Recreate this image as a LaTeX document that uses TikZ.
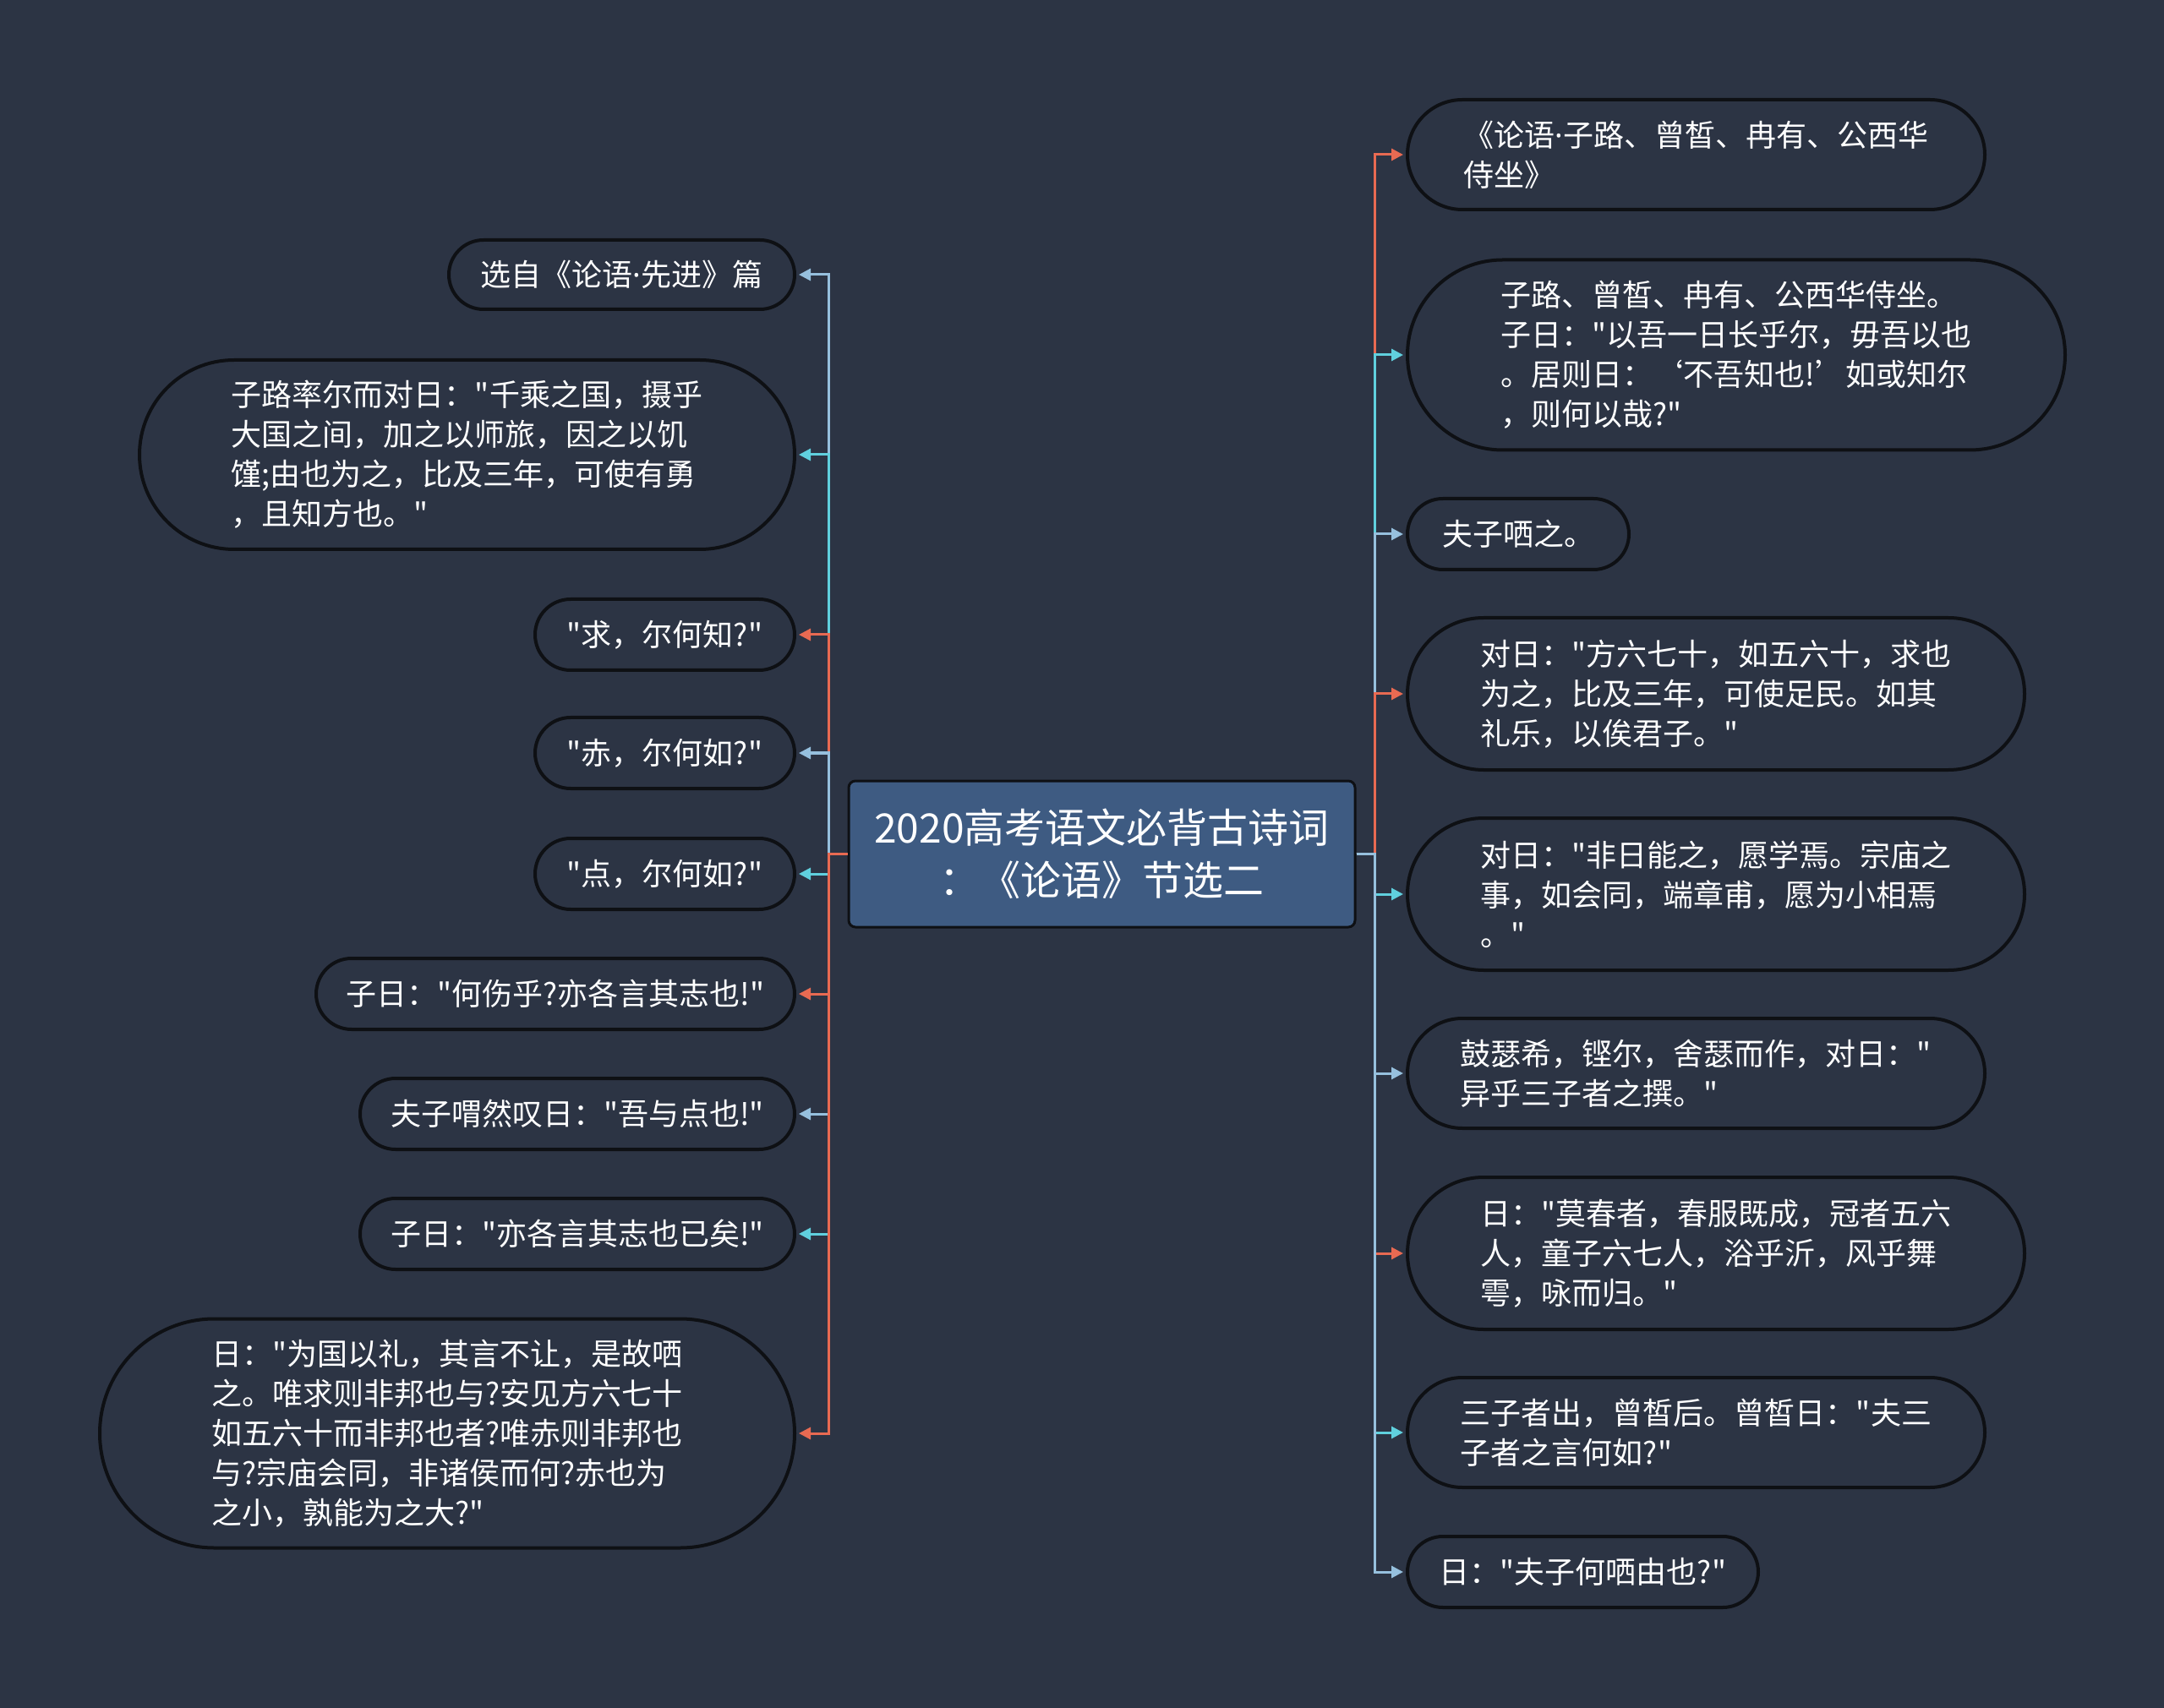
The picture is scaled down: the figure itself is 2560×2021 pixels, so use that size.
\documentclass[tikz,border=0pt]{standalone}
\usepackage{fontspec}
\usepackage{xcolor}
\newfontfamily\cjk{Noto Sans CJK SC}
\newfontfamily\latin{Noto Sans}
\newcommand{\mdot}{{\latin ·}}
\definecolor{mmbg}{RGB}{44,52,68}
\definecolor{mmroot}{RGB}{62,91,130}
\definecolor{mmred}{RGB}{232,106,82}
\definecolor{mmcyan}{RGB}{96,208,222}
\definecolor{mmblue}{RGB}{150,192,222}
\definecolor{mmedge}{RGB}{14,16,20}
\usetikzlibrary{arrows.meta}

\begin{document}
\begin{tikzpicture}[x=0.5pt, y=-0.5pt,
  leaf/.style 2 args={draw=mmedge, line width=2pt, fill=mmbg, text=white, align=left, inner sep=0pt,
    font=\cjk\fontsize{18}{23.5}\selectfont, minimum width=#1, minimum height=#2, rounded corners=#2/2},
  link/.style={draw=#1, line width=1.5pt, -{Triangle[length=7pt,width=7pt]}, shorten >=1.5pt}]
  \useasboundingbox (0,0) rectangle (2560,2021);
  \fill[mmbg] (0,0) rectangle (2560,2021);

  % centre
  \node[draw=mmedge, line width=1.5pt, fill=mmroot, rounded corners=4pt, text=white, align=center, inner sep=0pt,
    font=\cjk\fontsize{24}{31}\selectfont, minimum width=299.5pt, minimum height=86.5pt] (root) at (1303.5,1010.5)
    {2020高考语文必背古诗词\\：《论语》节选二};
  \coordinate (lt) at (980,1010.5);
  \coordinate (rt) at (1626,1010.5);

  % left side
  \node[leaf={204.5pt}{41pt}] (sel) at (735.5,325) {选自《论语\mdot 先进》篇};
  \node[leaf={387.5pt}{112pt}] (zl) at (552.5,538) {子路率尔而对日："千乘之国，摄乎\\大国之间，加之以师旅，因之以饥\\馑;由也为之，比及三年，可使有勇\\，且知方也。"};
  \node[leaf={153.5pt}{42pt}] (qiu) at (786.5,751) {"求，尔何知?"};
  \node[leaf={153.5pt}{42pt}] (chi) at (786.5,891) {"赤，尔何如?"};
  \node[leaf={153.5pt}{42pt}] (dian) at (786.5,1034) {"点，尔何如?"};
  \node[leaf={283pt}{42pt}] (hs) at (657,1176) {子日："何伤乎?亦各言其志也!"};
  \node[leaf={257pt}{42pt}] (kw) at (683,1318) {夫子喟然叹日："吾与点也!"};
  \node[leaf={257pt}{42pt}] (yy) at (683,1460) {子日："亦各言其志也已矣!"};
  \node[leaf={411pt}{135.5pt}] (wg) at (529,1696) {日："为国以礼，其言不让，是故哂\\之。唯求则非邦也与?安见方六七十\\如五六十而非邦也者?唯赤则非邦也\\与?宗庙会同，非诸侯而何?赤也为\\之小，孰能为之大?"};

  % right side
  \node[leaf={341.5pt}{65pt}] (ly) at (2006.5,183) {《论语\mdot 子路、曾皙、冉有、公西华\\侍坐》};
  \node[leaf={389pt}{112.5pt}] (zz) at (2054,420) {子路、曾皙、冉有、公西华侍坐。\\子日："以吾一日长乎尔，毋吾以也\\。居则日：‘不吾知也!’如或知尔\\，则何以哉?"};
  \node[leaf={131pt}{42pt}] (fz) at (1796,632) {夫子哂之。};
  \node[leaf={365pt}{90pt}] (df) at (2030,821) {对日："方六七十，如五六十，求也\\为之，比及三年，可使足民。如其\\礼乐，以俟君子。"};
  \node[leaf={365pt}{90pt}] (dn) at (2030,1058) {对日："非日能之，愿学焉。宗庙之\\事，如会同，端章甫，愿为小相焉\\。"};
  \node[leaf={341.5pt}{65pt}] (gs) at (2006.5,1270) {鼓瑟希，铿尔，舍瑟而作，对日："\\异乎三子者之撰。"};
  \node[leaf={365pt}{90pt}] (ym) at (2030,1483) {日："莫春者，春服既成，冠者五六\\人，童子六七人，浴乎沂，风乎舞\\雩，咏而归。"};
  \node[leaf={341.5pt}{65pt}] (sz) at (2006.5,1695) {三子者出，曾皙后。曾皙日："夫三\\子者之言何如?"};
  \node[leaf={207.5pt}{42pt}] (yf) at (1872.5,1860) {日："夫子何哂由也?"};

  % branches, top to bottom
  \draw[link=mmblue] (root.west) -- (lt) |- (sel.east);
  \draw[link=mmcyan] (root.west) -- (lt) |- (zl.east);
  \draw[link=mmred] (root.west) -- (lt) |- (qiu.east);
  \draw[link=mmblue] (root.west) -- (lt) |- (chi.east);
  \draw[link=mmcyan] (root.west) -- (lt) |- (dian.east);
  \draw[link=mmred] (root.west) -- (lt) |- (hs.east);
  \draw[link=mmblue] (root.west) -- (lt) |- (kw.east);
  \draw[link=mmcyan] (root.west) -- (lt) |- (yy.east);
  \draw[link=mmred] (root.west) -- (lt) |- (wg.east);

  \draw[link=mmred] (root.east) -- (rt) |- (ly.west);
  \draw[link=mmcyan] (root.east) -- (rt) |- (zz.west);
  \draw[link=mmblue] (root.east) -- (rt) |- (fz.west);
  \draw[link=mmred] (root.east) -- (rt) |- (df.west);
  \draw[link=mmcyan] (root.east) -- (rt) |- (dn.west);
  \draw[link=mmblue] (root.east) -- (rt) |- (gs.west);
  \draw[link=mmred] (root.east) -- (rt) |- (ym.west);
  \draw[link=mmcyan] (root.east) -- (rt) |- (sz.west);
  \draw[link=mmblue] (root.east) -- (rt) |- (yf.west);
\end{tikzpicture}
\end{document}
